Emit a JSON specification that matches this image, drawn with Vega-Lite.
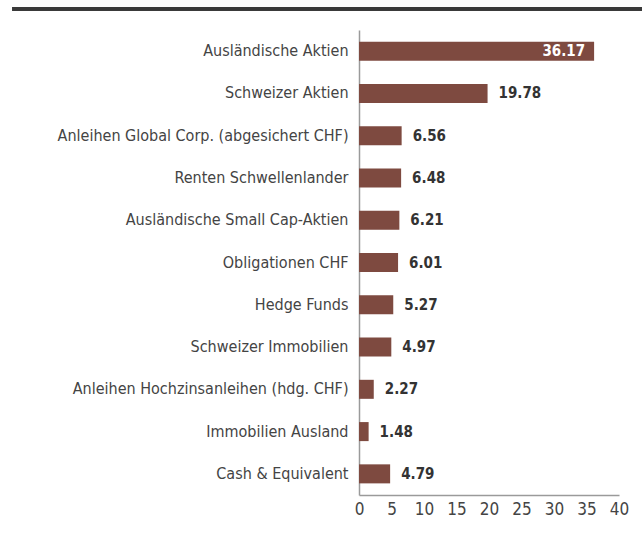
{
  "$schema": "https://vega.github.io/schema/vega-lite/v6.json",
  "width": 260,
  "height": 465,
  "padding": {"left": 10, "top": 7, "right": 2, "bottom": 5},
  "background": "white",
  "config": {
    "view": {"stroke": null},
    "font": "DejaVu Sans Condensed",
    "axis": {"labelFont": "DejaVu Sans Condensed", "labelColor": "#444444", "labelFontSize": 16, "domainColor": "#9a9a9a", "domainWidth": 1.5, "ticks": false, "grid": false, "title": null}
  },
  "datasets": {
    "alloc": [
      {"category": "Ausländische Aktien", "value": 36.17},
      {"category": "Schweizer Aktien", "value": 19.78},
      {"category": "Anleihen Global Corp. (abgesichert CHF)", "value": 6.56},
      {"category": "Renten Schwellenlander", "value": 6.48},
      {"category": "Ausländische Small Cap-Aktien", "value": 6.21},
      {"category": "Obligationen CHF", "value": 6.01},
      {"category": "Hedge Funds", "value": 5.27},
      {"category": "Schweizer Immobilien", "value": 4.97},
      {"category": "Anleihen Hochzinsanleihen (hdg. CHF)", "value": 2.27},
      {"category": "Immobilien Ausland", "value": 1.48},
      {"category": "Cash & Equivalent", "value": 4.79}
    ]
  },
  "data": {"name": "alloc"},
  "encoding": {
    "y": {"field": "category", "type": "nominal", "sort": null, "scale": {"paddingInner": 0.55, "paddingOuter": 0.275}, "axis": {"labelPadding": 11, "labelLimit": 400}},
    "x": {"field": "value", "type": "quantitative", "scale": {"domain": [0, 40], "nice": false}, "axis": {"values": [0, 5, 10, 15, 20, 25, 30, 35, 40], "labelPadding": 6, "labelFlush": false, "labelOverlap": false, "labelFontSize": 17}}
  },
  "layer": [
    {
      "mark": {"type": "bar", "color": "#7e4a40"}
    },
    {
      "transform": [{"filter": "datum.value > 30"}],
      "mark": {"type": "text", "align": "right", "dx": -9, "fontSize": 15, "fontWeight": "bold", "color": "white"},
      "encoding": {
        "text": {"field": "value", "type": "quantitative", "format": ".2f"}
      }
    },
    {
      "transform": [{"filter": "datum.value <= 30"}],
      "mark": {"type": "text", "align": "left", "dx": 11, "fontSize": 15, "fontWeight": "bold", "color": "#333333"},
      "encoding": {
        "text": {"field": "value", "type": "quantitative", "format": ".2f"}
      }
    },
    {
      "data": {"values": [{"a": -53.38, "b": 43.54}]},
      "mark": {"type": "rule", "color": "#3a3a3a", "strokeWidth": 4, "clip": false},
      "encoding": {
        "x": {"field": "a", "type": "quantitative"},
        "x2": {"field": "b"},
        "y": {"value": -21}
      }
    }
  ]
}
